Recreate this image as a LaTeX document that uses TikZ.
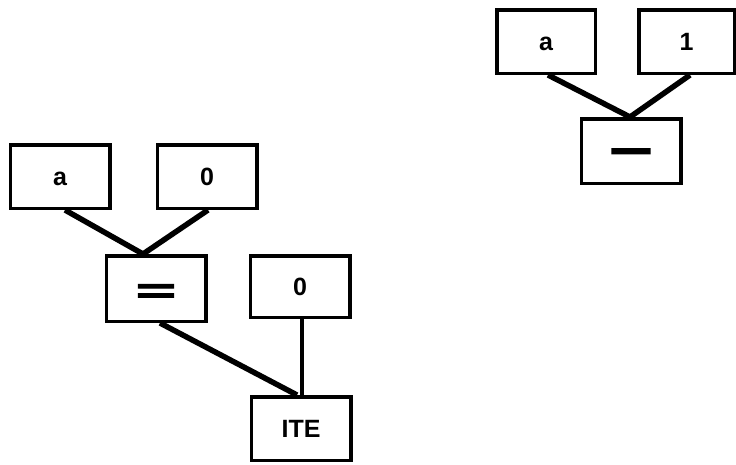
\documentclass[tikz,border=0pt]{standalone}
\usepackage{fontspec}
\setmainfont{Liberation Sans}
\newfontfamily\opfont[FakeBold=3]{Liberation Sans Bold}
\begin{document}
\begin{tikzpicture}[x=1pt,y=-1pt,
  box/.style={draw, line width=3.5pt, minimum width=99.5pt, minimum height=63.5pt, inner sep=0pt,
    text height=18pt, text depth=0pt,
    font=\fontsize{25}{25}\selectfont\bfseries},
  opbox/.style={box, text height=0pt, text depth=0pt},
  link/.style={line width=5.5pt}]
\useasboundingbox (0,0) rectangle (736,464);
% left tree
\node[box] (la) at (60,176.5) {a};
\node[box] (lz) at (207,176.5) {0};
\node[opbox, minimum height=65.5pt] (eq) at (156,288.5) {\raisebox{-13.6pt}[0pt][0pt]{\scalebox{2}[1]{\opfont\fontsize{34}{34}\selectfont =}}};
\node[box, minimum height=61.5pt] (rz) at (300,286.5) {0};
\node[box] (ite) at (301,428.5) {ITE};
% right tree
\node[box, minimum width=98.5pt] (ra) at (546,41.5) {a};
\node[box, minimum width=95.5pt] (one) at (686.5,41.5) {1};
\node[opbox, minimum height=64.5pt] (minus) at (631,151) {\raisebox{-15.5pt}[0pt][0pt]{\scalebox{1.6}[1]{\opfont\fontsize{46}{46}\selectfont −}}};
% connectors
\draw[link] ([xshift=5pt]la.south) -- ([xshift=-13pt]eq.north);
\draw[link] ([xshift=1pt]lz.south) -- ([xshift=-13pt]eq.north);
\draw[link] ([xshift=4pt]eq.south) -- ([xshift=-4pt]ite.north);
\draw[link, line width=4pt] ([xshift=2pt]rz.south) -- ([xshift=1pt]ite.north);
\draw[link] ([xshift=2pt]ra.south) -- ([xshift=-1pt]minus.north);
\draw[link] ([xshift=3.5pt]one.south) -- ([xshift=-1pt]minus.north);
\end{tikzpicture}
\end{document}
